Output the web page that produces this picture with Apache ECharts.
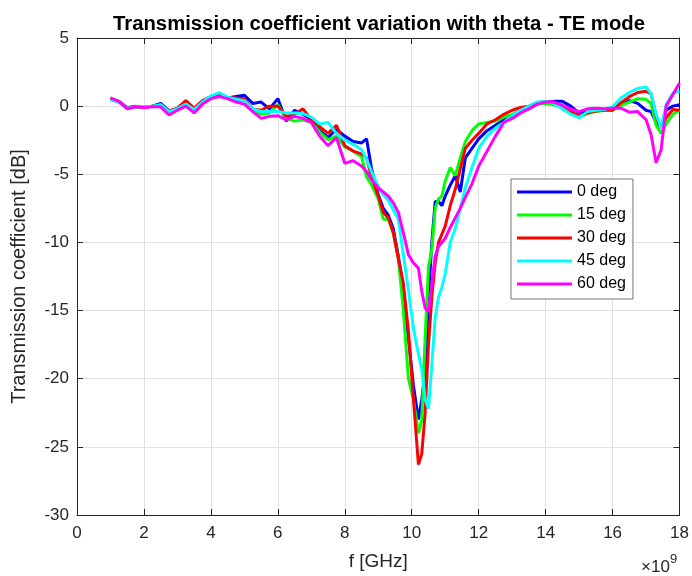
<!DOCTYPE html>
<html>
<head>
<meta charset="utf-8">
<script src="https://cdn.jsdelivr.net/npm/echarts@6/dist/echarts.min.js"></script>
<style>
  html, body { margin: 0; padding: 0; background: #ffffff; }
  #chart { width: 692px; height: 576px; }
</style>
</head>
<body>
<div id="chart"></div>
<script>
// Frequency grid (GHz) shared by all incidence angles
const freqGHz = [1.0, 1.25, 1.5, 1.75, 2.0, 2.25, 2.5, 2.75, 3.0, 3.25, 3.5, 3.75, 4.0,
  4.25, 4.5, 4.75, 5.0, 5.25, 5.5, 5.75, 6.0,
  6.25, 6.5, 6.75, 7.0, 7.25, 7.5, 7.75, 8.0, 8.25, 8.5,
  8.65, 8.8, 9.0, 9.15, 9.3, 9.45, 9.6, 9.75, 9.9, 10.05,
  10.2, 10.3, 10.4, 10.5, 10.6, 10.7, 10.8, 10.9, 11.0, 11.15, 11.3, 11.45, 11.6, 11.8, 12.0,
  12.25, 12.5, 12.75, 13.0, 13.25, 13.5, 13.75, 14.0, 14.25, 14.5, 14.75, 15.0, 15.25, 15.5, 15.75, 16.0, 16.25, 16.5, 16.75, 17.0,
  17.15, 17.3, 17.45, 17.6, 17.8, 18.0];

// Transmission coefficient (dB) for each angle
const te0 = [0.5, 0.35, -0.15, -0.05, -0.1, 0.0, 0.2, -0.35, -0.2, 0.35, -0.2, 0.35, 0.7,
  0.9, 0.6, 0.7, 0.8, 0.2, 0.3, -0.2, 0.55,
  -1.1, -0.3, -0.6, -1.0, -1.8, -2.3, -1.7, -2.2, -2.6, -2.7,
  -2.4, -4.6, -6.5, -7.5, -8.0, -9.0, -11.0, -13.5, -17.0, -20.5,
  -23.0, -21.5, -19.5, -14.0, -10.0, -7.0, -7.0, -7.3, -6.6, -5.8, -5.1, -6.3, -3.8, -3.1, -2.4,
  -1.8, -1.4, -1.0, -0.7, -0.3, -0.1, 0.2, 0.3, 0.35, 0.35, 0.0, -0.5, -0.45, -0.3, -0.25, -0.25, 0.1, 0.4, 0.2, -0.3,
  -0.4, -1.2, -1.5, -0.3, 0.0, 0.1];
const te15 = [0.5, 0.3, -0.15, -0.05, -0.1, 0.0, 0.05, -0.4, -0.2, 0.2, -0.25, 0.3, 0.7,
  0.85, 0.55, 0.5, 0.4, -0.3, -0.6, -0.5, 0.1,
  -0.9, -1.1, -1.0, -1.2, -1.9, -2.45, -2.2, -3.0, -3.3, -3.7,
  -5.2, -5.8, -6.8, -8.3, -8.3, -9.3, -11.2, -15.0, -20.0, -21.5,
  -24.0, -23.0, -17.0, -11.8, -10.5, -7.5, -6.8, -6.6, -5.5, -4.5, -5.1, -3.8, -2.6, -1.8, -1.3,
  -1.2, -1.1, -0.8, -0.6, -0.35, -0.2, 0.15, 0.2, 0.1, -0.1, -0.5, -0.8, -0.55, -0.4, -0.3, -0.3, 0.05, 0.3, 0.55, 0.5,
  0.2, -1.4, -2.0, -1.3, -0.6, -0.3];
const te30 = [0.55, 0.35, -0.1, 0.0, -0.1, 0.0, 0.1, -0.35, -0.15, 0.4, -0.15, 0.4, 0.7,
  0.9, 0.6, 0.6, 0.55, -0.2, -0.3, 0.0, 0.0,
  -0.75, -0.6, -0.2, -1.0, -1.5, -2.0, -1.4, -2.9, -3.3, -3.5,
  -3.8, -5.2, -6.6, -7.8, -8.2, -9.3, -11.2, -13.0, -16.5, -21.5,
  -26.3, -25.5, -22.5, -17.5, -14.0, -11.5, -10.0, -9.4, -8.8, -7.3, -6.1, -4.6, -3.1, -2.5, -2.0,
  -1.3, -1.0, -0.6, -0.3, -0.1, 0.0, 0.25, 0.35, 0.25, 0.0, -0.35, -0.75, -0.5, -0.35, -0.3, -0.3, 0.25, 0.7, 1.0, 1.1,
  0.9, -0.7, -1.6, -0.85, -0.25, -0.3];
const te45 = [0.5, 0.3, -0.15, -0.05, -0.05, 0.0, 0.1, -0.4, -0.2, 0.15, -0.25, 0.3, 0.75,
  1.0, 0.65, 0.5, 0.4, -0.2, -0.4, -0.4, -0.4,
  -0.5, -0.5, -0.55, -0.8, -1.3, -1.2, -2.0, -2.5, -2.8, -3.2,
  -3.9, -4.8, -5.9, -6.5, -6.9, -7.6, -8.3, -10.9, -13.5, -16.3,
  -18.2, -19.3, -21.5, -22.2, -19.0, -15.5, -14.0, -13.3, -12.3, -10.0, -9.0, -7.5, -6.0, -4.5, -3.1,
  -2.2, -1.6, -1.2, -0.7, -0.3, 0.0, 0.3, 0.35, 0.2, -0.2, -0.6, -0.85, -0.4, -0.3, -0.25, -0.05, 0.6, 1.0, 1.3, 1.4,
  0.9, -0.6, -1.6, 0.1, 0.95, 1.1];
const te60 = [0.6, 0.35, -0.2, -0.05, -0.1, -0.05, -0.05, -0.65, -0.3, 0.0, -0.5, 0.15, 0.55,
  0.7, 0.55, 0.3, 0.15, -0.4, -0.9, -0.75, -0.7,
  -1.0, -0.75, -0.9, -1.2, -2.2, -2.9, -2.3, -4.2, -4.0, -4.4,
  -4.8, -5.4, -6.0, -6.3, -6.6, -7.1, -7.8, -9.3, -10.9, -11.5,
  -11.9, -13.6, -14.8, -15.1, -13.0, -11.0, -10.3, -10.0, -9.7, -8.9, -8.2, -7.5, -6.7, -5.7, -4.4,
  -3.3, -2.2, -1.2, -0.9, -0.5, -0.2, 0.15, 0.3, 0.3, 0.05, -0.2, -0.4, -0.2, -0.15, -0.2, -0.15, -0.15, -0.45, -0.4, -1.0,
  -2.1, -4.15, -3.2, 0.0, 0.85, 1.7];

const seriesNames = ['0 deg', '15 deg', '30 deg', '45 deg', '60 deg'];
const seriesValues = [te0, te15, te30, te45, te60];
const seriesColors = ['#0000ff', '#00ff00', '#ff0000', '#00ffff', '#ff00ff'];

const xTicks = { min: 0, max: 18, interval: 2 };
const yTicks = { min: -30, max: 5, interval: 5 };

const FONT = '"Liberation Sans", Arial, Helvetica, sans-serif';
const INK = '#262626';
const GRID = '#e0e0e0';

const chart = echarts.init(document.getElementById('chart'), null, { renderer: 'canvas' });

const frameAxis = (pos) => ({
  show: true,
  position: pos,
  axisLine: { show: true, onZero: false, lineStyle: { color: INK, width: 1 } },
  axisTick: { show: true, inside: true, length: 6, lineStyle: { color: INK } },
  axisLabel: { show: false },
  splitLine: { show: false }
});

const option = {
  backgroundColor: '#ffffff',
  animation: false,
  title: {
    text: 'Transmission coefficient variation with theta - TE mode',
    left: 374,
    top: 9,
    textAlign: 'center',
    textStyle: { fontFamily: FONT, fontSize: 20.3, fontWeight: 'bold', color: '#000000' }
  },
  grid: { left: 77, right: 8, top: 38, bottom: 59, containLabel: false },
  legend: {
    orient: 'vertical',
    left: 511,
    top: 179,
    data: seriesNames,
    icon: 'rect',
    itemWidth: 55,
    itemHeight: 3,
    itemGap: 7,
    padding: [5, 7, 7, 6],
    backgroundColor: '#ffffff',
    borderColor: '#777777',
    borderWidth: 1,
    borderRadius: 0,
    textStyle: { fontFamily: FONT, fontSize: 16, color: '#000000', lineHeight: 16 }
  },
  xAxis: [
    {
      type: 'value',
      min: xTicks.min, max: xTicks.max, interval: xTicks.interval,
      name: 'f [GHz]',
      nameLocation: 'middle',
      nameGap: 37,
      nameTextStyle: { fontFamily: FONT, fontSize: 19, color: INK },
      axisLine: { show: true, onZero: false, lineStyle: { color: INK, width: 1 } },
      axisTick: { show: true, inside: true, length: 6, lineStyle: { color: INK } },
      axisLabel: { fontFamily: FONT, fontSize: 17, color: INK, margin: 10 },
      splitLine: { show: true, lineStyle: { color: GRID, width: 1 } }
    },
    Object.assign({ type: 'value', min: xTicks.min, max: xTicks.max, interval: xTicks.interval }, frameAxis('top'))
  ],
  yAxis: [
    {
      type: 'value',
      min: yTicks.min, max: yTicks.max, interval: yTicks.interval,
      name: 'Transmission coefficient [dB]',
      nameLocation: 'middle',
      nameGap: 48,
      nameTextStyle: { fontFamily: FONT, fontSize: 20, color: INK },
      axisLine: { show: true, onZero: false, lineStyle: { color: INK, width: 1 } },
      axisTick: { show: true, inside: true, length: 6, lineStyle: { color: INK } },
      axisLabel: { fontFamily: FONT, fontSize: 17, color: INK, margin: 8 },
      splitLine: { show: true, lineStyle: { color: GRID, width: 1 } }
    },
    Object.assign({ type: 'value', min: yTicks.min, max: yTicks.max, interval: yTicks.interval }, frameAxis('right'))
  ],
  graphic: [
    {
      type: 'text', left: 641, top: 559,
      style: { text: '\u00d710', font: '17px ' + FONT, fill: INK }
    },
    {
      type: 'text', left: 670, top: 553,
      style: { text: '9', font: '13px ' + FONT, fill: INK }
    }
  ],
  series: seriesNames.map((name, k) => ({
    name: name,
    type: 'line',
    xAxisIndex: 0,
    yAxisIndex: 0,
    showSymbol: false,
    symbol: 'none',
    smooth: false,
    clip: true,
    color: seriesColors[k],
    lineStyle: { width: 3, color: seriesColors[k] },
    data: freqGHz.map((f, i) => [f, seriesValues[k][i]])
  }))
};

chart.setOption(option);
</script>
</body>
</html>
